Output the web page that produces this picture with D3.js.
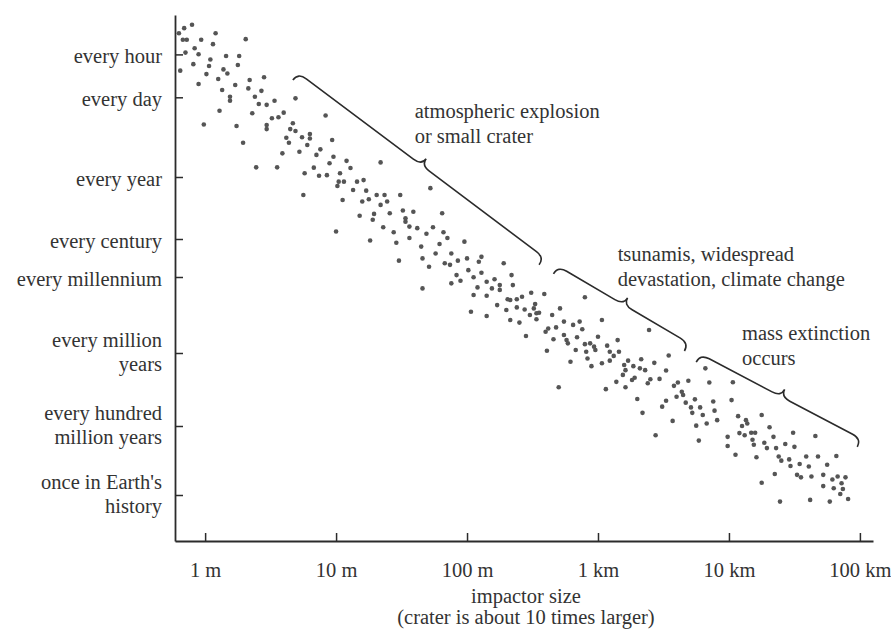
<!DOCTYPE html>
<html><head><meta charset="utf-8">
<script src="https://cdn.jsdelivr.net/npm/d3@7"></script>
<style>
html,body{margin:0;padding:0;background:#fff;}
svg text{font-family:"Liberation Serif","Times New Roman",serif;fill:#333;}
</style></head><body>
<svg id="chart" width="891" height="631"></svg>
<script>
// x: log10(impactor size in metres); y: log10(mean interval between impacts, in years)
const sizeTicks = [0, 1, 2, 3, 4, 5];
const sizeTickLabels = ["1 m", "10 m", "100 m", "1 km", "10 km", "100 km"];
const freqTicks = [-3.943, -2.563, 0, 2, 3, 6, 8, 9.653];
const freqTickLabels = [
  ["every hour"], ["every day"], ["every year"], ["every century"], ["every millennium"],
  ["every million", "years"], ["every hundred", "million years"], ["once in Earth's", "history"]
];
const xTitle = ["impactor size", "(crater is about 10 times larger)"];

const impacts = [
[-0.20,-4.62],[-0.16,-4.78],[-0.10,-4.89],[-0.17,-4.41],[-0.14,-4.41],[-0.03,-4.41],[0.08,-4.62],[0.06,-4.27],[0.31,-4.43],[-0.08,-4.14],
[-0.15,-4.00],[-0.05,-3.95],[-0.19,-3.42],[-0.09,-3.63],[0.04,-3.78],[0.03,-3.57],[0.16,-3.89],[0.26,-3.89],[0.25,-3.60],[0.14,-3.46],
[0.17,-3.33],[0.01,-3.31],[0.10,-3.15],[0.34,-3.12],[0.45,-3.21],[-0.05,-2.99],[0.23,-2.96],[0.33,-2.85],[0.13,-2.80],[0.43,-2.77],
[0.19,-2.58],[0.19,-2.45],[0.38,-2.58],[0.41,-2.35],[0.47,-2.32],[0.53,-2.45],[0.69,-2.53],[0.11,-2.13],[0.36,-2.05],[0.51,-1.89],
[0.56,-1.92],[0.60,-2.07],[-0.01,-1.69],[0.24,-1.64],[0.47,-1.67],[0.47,-1.54],[0.67,-1.73],[0.65,-1.54],[0.69,-1.48],[0.92,-1.98],
[0.74,-1.28],[0.80,-1.38],[0.80,-1.24],[0.62,-1.26],[0.64,-1.10],[0.97,-1.19],[0.78,-1.03],[0.29,-1.10],[0.59,-0.76],[0.72,-0.81],
[0.85,-0.71],[0.88,-0.89],[0.98,-0.65],[1.08,-0.52],[0.95,-0.44],[0.83,-0.30],[0.39,-0.31],[0.55,-0.31],[0.76,-0.12],[0.87,-0.04],
[0.93,-0.06],[1.03,-0.12],[1.11,-0.29],[1.34,-0.47],[1.72,0.36],[1.81,1.17],[0.75,0.58],[1.02,0.15],[1.06,0.15],[1.16,0.15],
[1.21,0.10],[1.01,0.29],[1.13,0.42],[1.23,0.44],[1.31,0.58],[1.37,0.58],[1.49,0.58],[1.05,0.74],[1.20,0.79],[1.25,0.72],
[1.34,0.90],[1.39,0.79],[1.18,1.25],[1.29,1.19],[1.28,1.38],[1.41,1.17],[1.51,1.08],[1.59,1.12],[1.53,1.33],[1.53,1.44],
[1.56,1.60],[1.36,1.62],[1.44,1.78],[1.62,1.65],[1.74,1.62],[1.69,1.83],[1.82,1.78],[1.00,1.76],[1.26,2.04],[1.46,2.10],
[1.56,1.97],[1.65,2.20],[1.79,2.13],[1.76,2.38],[1.85,1.97],[1.66,2.51],[1.48,2.57],[1.71,2.73],[1.83,2.64],[1.66,3.45],
[1.98,2.07],[1.88,2.38],[1.87,2.68],[1.93,2.57],[2.00,2.51],[2.11,2.47],[2.09,2.60],[2.01,2.82],[1.92,2.95],[1.95,3.15],
[1.88,3.25],[2.05,3.01],[2.11,2.89],[2.28,2.64],[2.34,2.95],[2.15,3.19],[2.21,3.09],[2.19,3.45],[2.25,3.51],[2.25,3.32],
[2.08,3.41],[2.35,3.32],[2.05,3.71],[2.15,3.74],[2.31,3.88],[2.33,3.91],[2.38,3.88],[2.42,3.78],[2.49,3.62],[2.59,3.67],
[2.23,4.11],[2.30,4.30],[2.38,4.20],[2.44,4.28],[2.52,4.07],[2.51,4.24],[2.53,4.43],[2.55,4.41],[2.48,4.50],[2.03,4.37],
[2.15,4.54],[2.33,4.70],[2.40,4.80],[2.53,4.67],[2.65,4.50],[2.71,4.24],[2.90,3.80],[2.60,5.16],[2.62,5.03],[2.68,4.99],
[2.74,4.76],[2.81,4.89],[2.86,4.76],[2.88,5.06],[2.66,5.46],[2.74,5.29],[2.76,5.49],[2.77,5.62],[2.84,5.38],[2.90,5.65],
[2.94,5.62],[2.97,5.75],[2.98,5.88],[3.00,5.36],[2.45,5.33],[2.61,5.91],[2.83,5.88],[2.91,5.95],[2.92,6.15],[2.79,6.24],
[2.95,6.36],[2.70,6.94],[3.03,4.70],[3.39,5.09],[3.15,5.49],[3.07,5.71],[3.09,5.95],[3.16,5.95],[3.03,6.28],[3.09,6.21],
[3.12,6.08],[3.23,6.21],[3.20,6.33],[3.21,6.47],[3.27,6.36],[3.33,6.17],[3.43,6.27],[3.54,6.07],[3.32,6.42],[3.36,6.47],
[3.28,6.68],[3.26,6.74],[3.19,6.60],[3.14,6.79],[3.21,6.94],[3.06,6.99],[3.40,6.72],[3.38,6.83],[3.47,6.71],[3.52,6.48],
[3.58,6.90],[3.61,6.81],[3.69,6.76],[3.65,7.15],[3.64,7.06],[3.60,7.20],[3.52,7.31],[3.49,7.47],[3.30,7.26],[3.34,7.64],
[3.57,7.86],[3.67,7.36],[3.71,7.49],[3.72,7.64],[3.74,7.27],[3.78,7.49],[3.80,7.70],[3.75,7.99],[3.83,7.93],[3.88,7.33],
[3.89,7.58],[3.91,7.84],[3.82,6.42],[3.85,6.81],[3.44,8.22],[3.77,8.35],[4.03,6.80],[4.02,7.29],[4.07,7.73],[4.13,7.84],
[4.14,7.93],[4.10,8.00],[4.25,7.70],[4.08,8.17],[4.12,8.22],[4.17,8.16],[4.20,8.16],[3.99,8.26],[3.99,8.48],[4.05,8.69],
[4.18,8.33],[4.19,8.45],[4.31,8.03],[4.27,8.40],[4.29,8.53],[4.21,8.75],[4.34,8.26],[4.36,8.53],[4.38,8.73],[4.40,8.83],
[4.43,8.43],[4.49,8.16],[4.50,8.50],[4.46,8.80],[4.47,8.96],[4.35,9.15],[4.54,8.91],[4.59,8.73],[4.61,8.97],[4.66,8.24],
[4.68,8.73],[4.75,8.93],[4.52,9.17],[4.55,9.23],[4.63,9.21],[4.82,8.72],[4.72,9.17],[4.79,9.28],[4.83,9.21],[4.89,9.23],
[4.86,9.37],[4.72,9.44],[4.80,9.49],[4.87,9.51],[4.85,9.63],[4.91,9.75],[4.25,9.36],[4.39,9.81],[4.62,9.77],[4.77,9.81]
];

const braces = [
  { from: [0.67, -3.12], to: [2.55, 2.68] },
  { from: [2.66, 2.92], to: [3.66, 5.92] },
  { from: [3.75, 6.25], to: [4.98, 8.50] }
];
const notes = [
  { at: [1.60, -1.90], lines: ["atmospheric explosion", "or small crater"] },
  { at: [3.15, 2.58], lines: ["tsunamis, widespread", "devastation, climate change"] },
  { at: [4.10, 5.49], lines: ["mass extinction", "occurs"] }
];

const svg = d3.select("#chart");
const FS = 20.5;
const ink = "#2b2b2b";

const x = d3.scaleLinear().domain([-0.23, 5.1]).range([175, 873]);
// piecewise (schematic) log-time axis, as in the original drawing
const y = d3.scaleLinear()
  .domain([-5.2, ...freqTicks.filter((d, i) => i !== 1), 10.75])
  .range([15, 54.4, 177, 239, 277, 353, 426, 495, 541]);

// dots
svg.append("g").selectAll("circle").data(impacts).join("circle")
  .attr("cx", d => x(d[0])).attr("cy", d => y(d[1]))
  .attr("r", 2.3).attr("fill", "#555");

// x axis
const xa = svg.append("g").attr("transform", `translate(0,${y(10.75)})`)
  .call(d3.axisBottom(x).tickValues(sizeTicks).tickFormat((d, i) => sizeTickLabels[i])
    .tickSizeInner(-8).tickSizeOuter(0).tickPadding(21));
xa.select(".domain").attr("stroke", ink).attr("stroke-width", 1.8);
xa.selectAll(".tick line").attr("stroke", ink).attr("stroke-width", 1.5);
xa.selectAll(".tick text").attr("font-size", FS).attr("font-family", null);

// y axis
const ya = svg.append("g").attr("transform", `translate(${x(-0.23)},0)`)
  .call(d3.axisRight(y).tickValues(freqTicks).tickFormat("").tickSizeInner(8).tickSizeOuter(0));
ya.select(".domain").attr("stroke", ink).attr("stroke-width", 1.8);
ya.selectAll(".tick line").attr("stroke", ink).attr("stroke-width", 1.5);

const yl = svg.append("g").selectAll("text").data(freqTicks).join("text")
  .attr("text-anchor", "end").attr("font-size", FS)
  .attr("x", x(-0.23) - 13)
  .attr("y", d => y(d));
yl.each(function (d, i) {
  const lines = freqTickLabels[i];
  const t = d3.select(this);
  if (lines.length === 1) {
    t.append("tspan").attr("x", x(-0.23) - 13).attr("dy", 9).text(lines[0]);
  } else {
    t.append("tspan").attr("x", x(-0.23) - 13).attr("dy", -6).text(lines[0]);
    t.append("tspan").attr("x", x(-0.23) - 13).attr("dy", 23.5).text(lines[1]);
  }
});

// axis title
svg.append("g").selectAll("text").data(xTitle).join("text")
  .attr("text-anchor", "middle").attr("font-size", FS)
  .attr("x", x(2.45))
  .attr("y", (d, i) => y(10.75) + 62 + i * 21)
  .text(d => d);

// braces
function bracePath(p1, p2, h, t) {
  const dx = p2[0] - p1[0], dy = p2[1] - p1[1], L = Math.hypot(dx, dy);
  const d = [dx / L, dy / L], n = [dy / L, -dx / L];
  const q = Math.min(10, L / 8);
  const P = (b, a, c) => [b[0] + d[0] * a + n[0] * c, b[1] + d[1] * a + n[1] * c];
  const m = [(p1[0] + p2[0]) / 2, (p1[1] + p2[1]) / 2];
  const path = d3.path();
  path.moveTo(...p1);
  path.quadraticCurveTo(...P(p1, 0, h), ...P(p1, q, h));
  path.lineTo(...P(m, -q, h));
  path.quadraticCurveTo(...P(m, 0, h), ...P(m, 0, h + t));
  path.quadraticCurveTo(...P(m, 0, h), ...P(m, q, h));
  path.lineTo(...P(p2, -q, h));
  path.quadraticCurveTo(...P(p2, 0, h), ...p2);
  return path.toString();
}
svg.append("g").selectAll("path").data(braces).join("path")
  .attr("d", b => bracePath([x(b.from[0]), y(b.from[1])], [x(b.to[0]), y(b.to[1])], 9, 8))
  .attr("fill", "none").attr("stroke", ink).attr("stroke-width", 1.6);

// annotations
const nt = svg.append("g").selectAll("text").data(notes).join("text")
  .attr("font-size", FS)
  .attr("x", d => x(d.at[0])).attr("y", d => y(d.at[1]));
nt.each(function (d) {
  const t = d3.select(this);
  d.lines.forEach((l, i) => t.append("tspan").attr("x", x(d.at[0])).attr("dy", i ? 25 : 0).text(l));
});
</script>
</body></html>
